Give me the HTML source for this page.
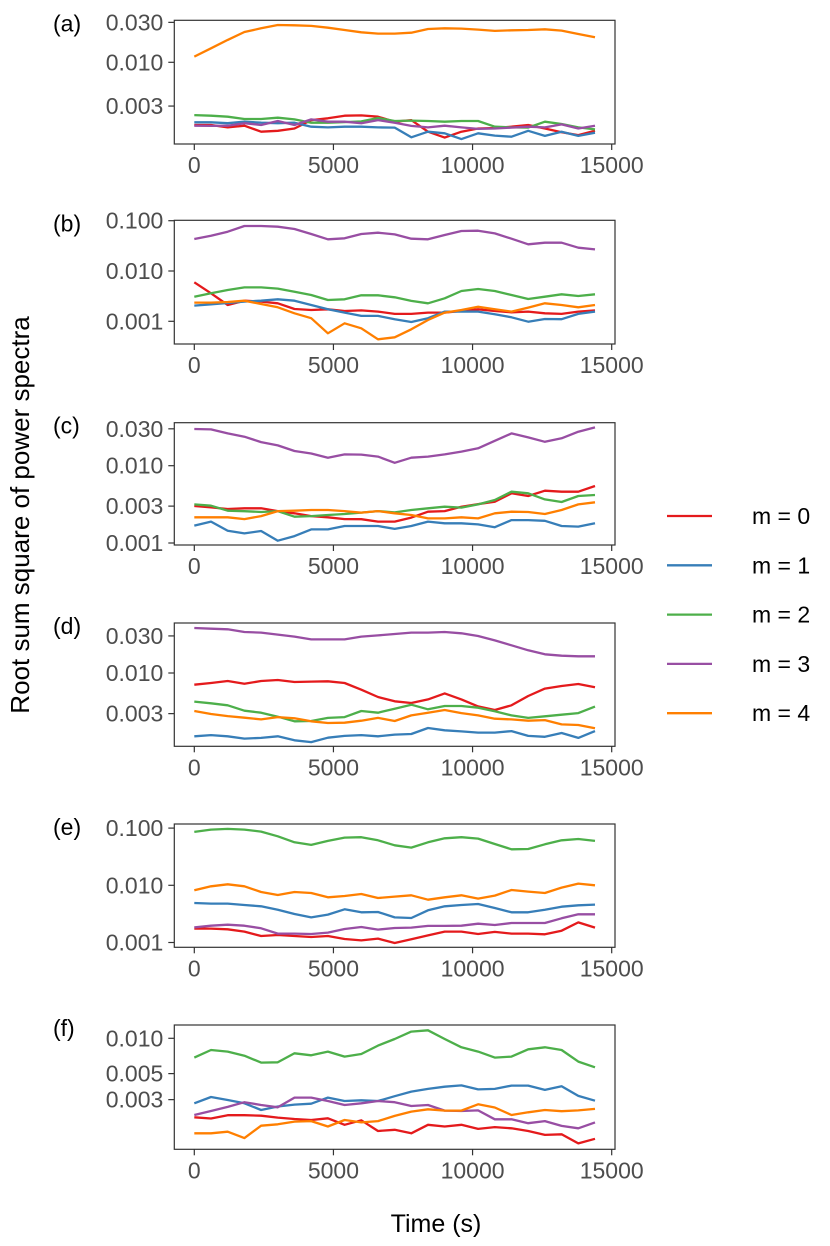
<!DOCTYPE html>
<html><head><meta charset="utf-8"><style>
body{margin:0;background:#fff;}
svg{display:block;font-family:"Liberation Sans",sans-serif;}
</style></head><body>
<svg id="chart" width="830" height="1246" viewBox="0 0 830 1246">
<text x="29" y="515" transform="rotate(-90 29 515)" text-anchor="middle" font-size="26" fill="#000">Root sum square of power spectra</text>
<text x="436" y="1232" text-anchor="middle" font-size="25" fill="#000">Time (s)</text>
<g id="legend"></g>
</svg>
<script>
const times = [0,600,1200,1800,2400,3000,3600,4200,4800,5400,6000,6600,7200,7800,8400,9000,9600,10200,10800,11400,12000,12600,13200,13800,14400];
const seriesNames = ["m = 0","m = 1","m = 2","m = 3","m = 4"];
const colors = ["#E41A1C","#377EB8","#4DAF4A","#984EA3","#FF7F00"];
const xTicks = [0,5000,10000,15000];

// panel (a)
const aM0 = [.00178,.00178,.00167,.00175,.00148,.00152,.00162,.00204,.00214,.0023,.00232,.00224,.00195,.00204,.00148,.00126,.00148,.00162,.00164,.0017,.00178,.00162,.00146,.00135,.00152];
const aM1 = [.00192,.00192,.00187,.00195,.0019,.00187,.0019,.0017,.00167,.0017,.0017,.00167,.00166,.00127,.00148,.00142,.00121,.00142,.00133,.00129,.00152,.00132,.00148,.00132,.00144];
const aM2 = [.00234,.0023,.00224,.0021,.0021,.00218,.00208,.0019,.0019,.00193,.00197,.00216,.00199,.00201,.00199,.00195,.00199,.00199,.0017,.00167,.00166,.00195,.00183,.00167,.00158];
const aM3 = [.00175,.00174,.00175,.00187,.00178,.00199,.00178,.00208,.00195,.00195,.00187,.00204,.0019,.00174,.00167,.00175,.00167,.0016,.00162,.00166,.0017,.00167,.00181,.00162,.00175];
const aM4 = [.0117,.0147,.0185,.023,.0255,.0279,.0277,.0272,.0259,.0243,.0228,.022,.022,.0226,.025,.0255,.0253,.0246,.0237,.0241,.0243,.0248,.0239,.0218,.0199];
const aTicks = [0.03,0.01,0.003];
const aTickLabels = ["0.030","0.010","0.003"];
// panel (b)
const bM0 = [.00596,.0036,.00211,.00257,.00246,.00228,.00176,.00168,.00173,.0016,.00165,.00156,.0014,.0014,.00149,.00149,.0016,.00173,.0016,.00151,.00156,.00144,.0014,.00156,.00165];
const bM1 = [.00205,.00218,.00231,.00246,.00257,.00274,.00257,.00211,.00173,.00149,.00128,.00128,.0011,.00097,.00115,.00156,.00156,.00156,.00138,.0012,.00098,.00111,.0011,.0014,.00156];
const bM2 = [.00309,.0036,.00419,.00473,.00473,.00446,.00388,.00334,.00265,.00274,.00329,.00329,.003,.00254,.00228,.00286,.00401,.00439,.00401,.00334,.00278,.00309,.00344,.00319,.00344];
const bM3 = [.0432,.0504,.0604,.0783,.0783,.076,.0683,.0543,.0426,.0446,.0543,.0578,.0535,.0439,.0426,.0519,.0623,.0633,.056,.0439,.0339,.0366,.0366,.0291,.0269];
const bM4 = [.00235,.00235,.00242,.00257,.00221,.0019,.00144,.00115,.000578,.000912,.000726,.000439,.000481,.000693,.00106,.00149,.00168,.00195,.00173,.00156,.00187,.00228,.00211,.0019,.00211];
const bTicks = [0.1,0.01,0.001];
const bTickLabels = ["0.100","0.010","0.001"];
// panel (c)
const cM0 = [.00301,.00289,.00275,.00281,.00281,.00259,.00242,.00223,.00215,.00204,.00203,.00189,.00189,.00213,.00254,.00259,.00295,.00319,.00342,.00439,.00405,.00475,.00461,.00461,.00546];
const cM1 = [.00168,.00189,.00144,.00133,.00143,.00107,.00123,.0015,.0015,.00166,.00166,.00166,.00152,.00166,.00189,.0018,.0018,.00174,.0016,.00198,.00198,.00194,.00166,.00163,.0018];
const cM2 = [.00316,.00304,.00262,.00258,.00252,.00259,.00219,.00223,.0023,.00237,.00247,.00259,.00249,.00267,.00281,.00295,.00287,.00316,.0036,.00461,.00439,.00367,.00339,.00405,.00418];
const cM3 = [.0298,.0295,.0262,.0237,.0202,.0183,.0155,.0144,.0127,.014,.0139,.0131,.0109,.0127,.0131,.014,.0152,.0168,.021,.0262,.0232,.0204,.0226,.0275,.0313];
const cM4 = [.00215,.00215,.00215,.00204,.00223,.00259,.00262,.00267,.00267,.00259,.00247,.00259,.00242,.0023,.00208,.00208,.00215,.00208,.00242,.00254,.00252,.00237,.00267,.00316,.00336];
const cTicks = [0.03,0.01,0.003,0.001];
const cTickLabels = ["0.030","0.010","0.003","0.001"];
// panel (d)
const dM0 = [.00708,.00743,.00789,.00729,.00789,.00813,.00766,.00776,.00781,.00743,.0061,.00491,.00432,.00411,.00458,.00547,.00458,.00372,.00334,.00384,.00506,.00629,.0068,.00722,.00654];
const dM1 = [.00153,.00159,.00153,.00143,.00146,.00153,.00136,.00129,.00147,.00155,.00159,.00153,.00161,.00164,.00196,.00183,.00177,.00171,.00171,.00179,.00155,.00151,.00169,.00146,.00179];
const dM2 = [.00428,.00407,.00384,.00327,.00308,.00274,.00239,.00241,.00264,.00271,.00324,.00308,.00347,.00391,.00341,.00376,.00376,.00358,.00321,.00285,.00264,.00277,.00291,.00305,.00369];
const dM3 = [.0379,.0372,.0365,.0337,.0331,.0312,.0294,.0271,.0271,.0271,.0294,.0305,.0318,.0331,.0331,.0337,.0324,.0299,.0263,.0227,.0196,.0174,.0167,.0164,.0164];
const dM4 = [.00324,.00297,.00279,.00266,.00253,.00271,.00261,.00239,.00227,.00229,.00243,.00264,.00241,.00285,.00308,.00334,.00305,.00285,.00258,.00253,.00243,.00248,.00218,.00214,.00194];
const dTicks = [0.03,0.01,0.003];
const dTickLabels = ["0.030","0.010","0.003"];
// panel (e)
const eM0 = [.00175,.00175,.0017,.00155,.0013,.00135,.0013,.00125,.0013,.00115,.00109,.00117,.00098,.00114,.00133,.00155,.00155,.00141,.00153,.00143,.00143,.00139,.00161,.00225,.00182];
const eM1 = [.00491,.00478,.00478,.00453,.00429,.00375,.00315,.00275,.00307,.0038,.00337,.00342,.00275,.00268,.00365,.00429,.00453,.00471,.00401,.00337,.00337,.00375,.00423,.00447,.00459];
const eM2 = [.0857,.0942,.0967,.0942,.0869,.072,.0565,.0508,.0597,.0682,.0692,.0613,.0501,.0456,.0565,.0664,.0692,.0655,.0528,.0426,.0432,.0521,.0613,.0646,.0597];
const eM3 = [.00184,.00197,.00205,.00197,.00177,.00143,.00143,.00141,.00149,.00172,.00187,.00168,.00179,.00182,.00195,.00195,.00197,.00213,.00202,.00219,.00219,.00219,.00265,.00311,.00311];
const eM4 = [.00818,.0096,.0104,.0096,.00764,.00678,.00764,.00734,.00617,.00651,.00705,.006,.00634,.00668,.00561,.00617,.00668,.00585,.0066,.00829,.00775,.00734,.0091,.0107,.01];
const eTicks = [0.1,0.01,0.001];
const eTickLabels = ["0.100","0.010","0.001"];
// panel (f)
const fM0 = [.00212,.00207,.00221,.00221,.00219,.00211,.00205,.00201,.00208,.00183,.002,.00162,.00166,.00155,.00183,.00177,.00183,.00169,.00175,.00171,.00162,.0015,.00152,.00127,.00139];
const fM1 = [.00279,.00316,.00298,.00279,.00245,.00262,.00272,.00277,.00312,.00292,.00296,.00292,.00321,.00351,.0037,.00387,.00397,.00367,.0037,.00395,.00395,.00363,.0039,.00323,.00294];
const fM2 = [.00684,.00795,.0077,.00711,.00621,.00624,.00745,.00716,.0077,.00698,.00735,.00866,.00987,.0114,.0117,.00987,.00838,.0077,.00684,.00698,.00806,.00838,.00795,.00633,.00566];
const fM3 = [.00222,.0024,.0026,.00285,.0027,.00258,.00312,.00312,.00292,.0027,.00279,.00292,.00285,.00265,.0027,.00242,.0024,.00243,.00204,.00204,.00189,.00197,.00179,.00171,.00192];
const fM4 = [.00155,.00155,.0016,.00141,.0018,.00185,.00195,.00197,.00177,.00201,.00192,.00197,.00218,.00237,.00248,.00242,.00242,.00274,.00257,.00222,.00234,.00245,.00239,.00243,.0025];
const fTicks = [0.01,0.005,0.003];
const fTickLabels = ["0.010","0.005","0.003"];

const panels = [
 {label:"(a)", top:20.3, bottom:144, ref:62.3, dec:83.7, series:[aM0,aM1,aM2,aM3,aM4], ticks:aTicks, tl:aTickLabels},
 {label:"(b)", top:220.3, bottom:344, ref:271, dec:50.3, series:[bM0,bM1,bM2,bM3,bM4], ticks:bTicks, tl:bTickLabels},
 {label:"(c)", top:422.7, bottom:545, ref:465.7, dec:77.3, series:[cM0,cM1,cM2,cM3,cM4], ticks:cTicks, tl:cTickLabels},
 {label:"(d)", top:623, bottom:746.3, ref:673, dec:77.7, series:[dM0,dM1,dM2,dM3,dM4], ticks:dTicks, tl:dTickLabels},
 {label:"(e)", top:824, bottom:947.3, ref:885.3, dec:57.2, series:[eM0,eM1,eM2,eM3,eM4], ticks:eTicks, tl:eTickLabels},
 {label:"(f)", top:1025, bottom:1149.3, ref:1038.3, dec:117.3, series:[fM0,fM1,fM2,fM3,fM4], ticks:fTicks, tl:fTickLabels}
];
const NS = "http://www.w3.org/2000/svg";
const svg = document.getElementById("chart");
const X0 = 194.3, X1 = 611.7, BL = 174.3, BR = 615;
function xScale(t){ return X0 + (t/15000)*(X1-X0); }
function mk(tag, attrs, parent){ const e=document.createElementNS(NS,tag); for(const k in attrs) e.setAttribute(k,attrs[k]); (parent||svg).appendChild(e); return e; }
panels.forEach((p,pi)=>{
  const yScale = v => p.ref - p.dec*Math.log10(v/0.01);
  const g = mk("g",{});
  
  
  const lab = mk("text",{x:53,y:p.top+11,"font-size":"23",fill:"#000"},g);
  lab.textContent = p.label;
  
  
  const clip = mk("clipPath",{id:"clip"+pi},g);
  mk("rect",{x:BL,y:p.top,width:BR-BL,height:p.bottom-p.top},clip);
  p.series.forEach((s,si)=>{
    const d = s.map((v,i)=>(i?"L":"M")+xScale(times[i]).toFixed(1)+","+yScale(v).toFixed(1)).join("");
    const path = mk("path",{d:d,fill:"none",stroke:colors[si],"stroke-width":"2.3","stroke-linejoin":"round","clip-path":"url(#clip"+pi+")"},g);
    
    
  });
  const box = mk("rect",{x:BL,y:p.top,width:BR-BL,height:p.bottom-p.top,fill:"none",stroke:"#333","stroke-width":"1.2"},g);
  
  
  p.ticks.forEach((t,ti)=>{
    const y=yScale(t);
    mk("line",{x1:BL-6,x2:BL,y1:y,y2:y,stroke:"#333","stroke-width":"1.2"},g);
    const tx = mk("text",{x:BL-11,y:y+8,"text-anchor":"end","font-size":"23",fill:"#4d4d4d"},g);
    tx.textContent = p.tl[ti];
    
    
  });
  xTicks.forEach(t=>{
    const x=xScale(t);
    mk("line",{x1:x,x2:x,y1:p.bottom,y2:p.bottom+6,stroke:"#333","stroke-width":"1.2"},g);
    const tx = mk("text",{x:x,y:p.bottom+29,"text-anchor":"middle","font-size":"23",fill:"#4d4d4d"},g);
    tx.textContent = String(t);
    
    
  });
});
const leg = document.getElementById("legend");
seriesNames.forEach((n,i)=>{
  const y = 516 + i*49.3;
  const ln = mk("line",{x1:667,x2:712,y1:y,y2:y,stroke:colors[i],"stroke-width":"2.3"},leg);
  
  
  const tx = mk("text",{x:752,y:y+8,"font-size":"23",fill:"#000"},leg);
  tx.textContent = n;
  
  
});
</script>
</body></html>
